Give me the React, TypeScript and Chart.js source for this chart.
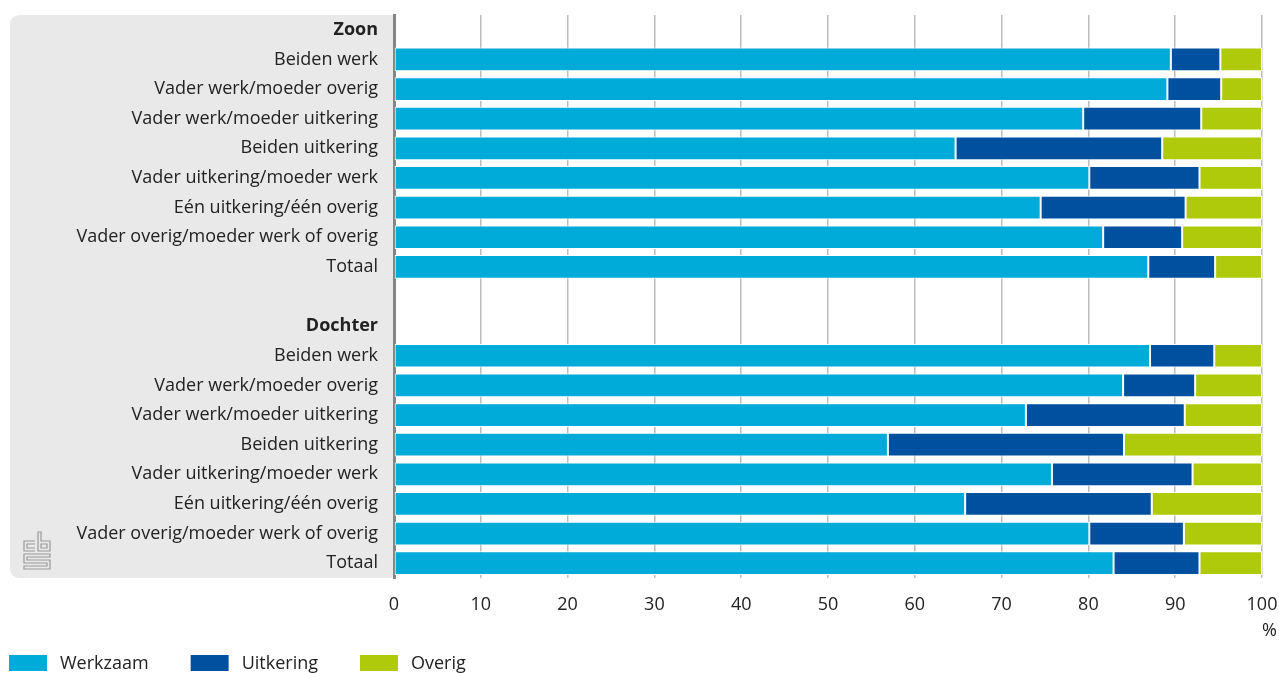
import React, { useEffect, useRef } from "react";
import { Chart, registerables } from "chart.js";

Chart.register(...registerables);

const categories = [
  "Zoon",
  "Beiden werk",
  "Vader werk/moeder overig",
  "Vader werk/moeder uitkering",
  "Beiden uitkering",
  "Vader uitkering/moeder werk",
  "Eén uitkering/één overig",
  "Vader overig/moeder werk of overig",
  "Totaal",
  "",
  "Dochter",
  "Beiden werk",
  "Vader werk/moeder overig",
  "Vader werk/moeder uitkering",
  "Beiden uitkering",
  "Vader uitkering/moeder werk",
  "Eén uitkering/één overig",
  "Vader overig/moeder werk of overig",
  "Totaal",
];

const headerRows = [0, 10];

const werkzaam = [null, 89.5, 89.1, 79.4, 64.7, 80.1, 74.5, 81.7, 86.9, null, null, 87.1, 84.0, 72.8, 56.9, 75.8, 65.8, 80.1, 82.9];
const uitkering = [null, 5.7, 6.2, 13.6, 23.8, 12.7, 16.7, 9.1, 7.7, null, null, 7.4, 8.3, 18.3, 27.2, 16.2, 21.5, 10.9, 9.9];
const overig = [null, 4.8, 4.7, 7.0, 11.5, 7.2, 8.8, 9.2, 5.4, null, null, 5.5, 7.7, 8.9, 15.9, 8.0, 12.7, 9.0, 7.2];

const seriesNames = ["Werkzaam", "Uitkering", "Overig"];
const seriesColors = ["#00aad9", "#0050a0", "#afca0b"];
const unitLabel = "%";

const FONT = "'Open Sans', 'Noto Sans', sans-serif";

const panelPlugin = {
  id: "panel",
  beforeDraw(chart: any) {
    const { ctx, chartArea } = chart;
    ctx.save();
    ctx.fillStyle = "#e9e9e9";
    const x = 10;
    const y = chartArea.top;
    const w = chartArea.left - x;
    const h = chartArea.bottom - chartArea.top;
    ctx.beginPath();
    ctx.roundRect(x, y, w, h, [9, 0, 0, 9]);
    ctx.fill();
    // CBS logo
    ctx.strokeStyle = "#9a9a9a";
    ctx.lineWidth = 1.2;
    const bx = 24;
    const by = chartArea.bottom - 46;
    ctx.beginPath();
    // c
    ctx.moveTo(bx + 11, by + 9);
    ctx.lineTo(bx, by + 9);
    ctx.lineTo(bx, by + 19);
    ctx.lineTo(bx + 11, by + 19);
    ctx.moveTo(bx + 11, by + 12);
    ctx.lineTo(bx + 3, by + 12);
    ctx.lineTo(bx + 3, by + 16);
    ctx.lineTo(bx + 11, by + 16);
    // b
    ctx.moveTo(bx + 14, by);
    ctx.lineTo(bx + 14, by + 19);
    ctx.lineTo(bx + 26, by + 19);
    ctx.lineTo(bx + 26, by + 9);
    ctx.lineTo(bx + 17, by + 9);
    ctx.lineTo(bx + 17, by);
    ctx.closePath();
    ctx.rect(bx + 17, by + 12, 6, 4);
    // S
    ctx.moveTo(bx + 26, by + 22);
    ctx.lineTo(bx, by + 22);
    ctx.lineTo(bx, by + 31);
    ctx.lineTo(bx + 23, by + 31);
    ctx.lineTo(bx + 23, by + 34);
    ctx.lineTo(bx, by + 34);
    ctx.lineTo(bx, by + 37);
    ctx.lineTo(bx + 26, by + 37);
    ctx.lineTo(bx + 26, by + 28);
    ctx.lineTo(bx + 3, by + 28);
    ctx.lineTo(bx + 3, by + 25);
    ctx.lineTo(bx + 26, by + 25);
    ctx.closePath();
    ctx.stroke();
    ctx.restore();
  },
};

const legendPlugin = {
  id: "customLegend",
  afterDraw(chart: any) {
    const { ctx, chartArea } = chart;
    ctx.save();
    ctx.font = `18px ${FONT}`;
    ctx.textBaseline = "middle";
    // unit label under the last tick
    ctx.fillStyle = "#222";
    ctx.textAlign = "right";
    ctx.fillText(unitLabel, chartArea.right + 15, 631);
    ctx.textAlign = "left";
    let x = 9;
    const y = 663;
    chart.data.datasets.forEach((ds: any) => {
      ctx.fillStyle = ds.backgroundColor;
      ctx.fillRect(x, y - 8, 38, 16);
      ctx.fillStyle = "#222";
      ctx.fillText(ds.label, x + 51, y + 1);
      x += 51 + ctx.measureText(ds.label).width + 42;
    });
    ctx.restore();
  },
};

export default function App() {
  const canvasRef = useRef<HTMLCanvasElement>(null);

  useEffect(() => {
    document.body.style.margin = "0";
    const series = [werkzaam, uitkering, overig];
    const chart = new Chart(canvasRef.current!, {
      type: "bar",
      data: {
        labels: categories,
        datasets: series.map((d, i) => ({
          label: seriesNames[i],
          data: d,
          backgroundColor: seriesColors[i],
          borderColor: "#ffffff",
          borderWidth: 1,
          borderSkipped: false,
          barPercentage: 0.8,
          categoryPercentage: 1,
        })),
      },
      options: {
        indexAxis: "y",
        animation: false,
        responsive: true,
        maintainAspectRatio: false,
        layout: { padding: { top: 15, right: 17, bottom: 30, left: 0 } },
        plugins: {
          legend: { display: false },
          tooltip: { enabled: false },
        },
        scales: {
          x: {
            stacked: true,
            min: 0,
            max: 100,
            afterFit: (scale: any) => {
              scale.paddingRight = 0;
              scale.paddingLeft = 0;
              scale.height = 65;
            },
            ticks: {
              stepSize: 10,
              color: "#222",
              font: { family: FONT, size: 18 },
              padding: 16,
            },
            grid: { color: "#bcbcbc", lineWidth: 1.5, drawTicks: false },
            border: { display: false },
          },
          y: {
            stacked: true,
            afterFit: (scale: any) => {
              scale.width = 394;
              scale.paddingTop = 0;
              scale.paddingBottom = 0;
            },
            ticks: {
              color: "#222",
              padding: 16,
              autoSkip: false,
              font: (c: any) => ({
                family: FONT,
                size: 18,
                weight: headerRows.includes(c.index) ? "bold" : "normal",
              }),
            },
            grid: { display: false, drawTicks: false },
            border: { display: true, color: "#858585", width: 3 },
          },
        },
      },
      plugins: [panelPlugin, legendPlugin],
    });
    return () => chart.destroy();
  }, []);

  return (
    <div style={{ width: 1279, height: 673, position: "relative" }}>
      <canvas ref={canvasRef} />
    </div>
  );
}
